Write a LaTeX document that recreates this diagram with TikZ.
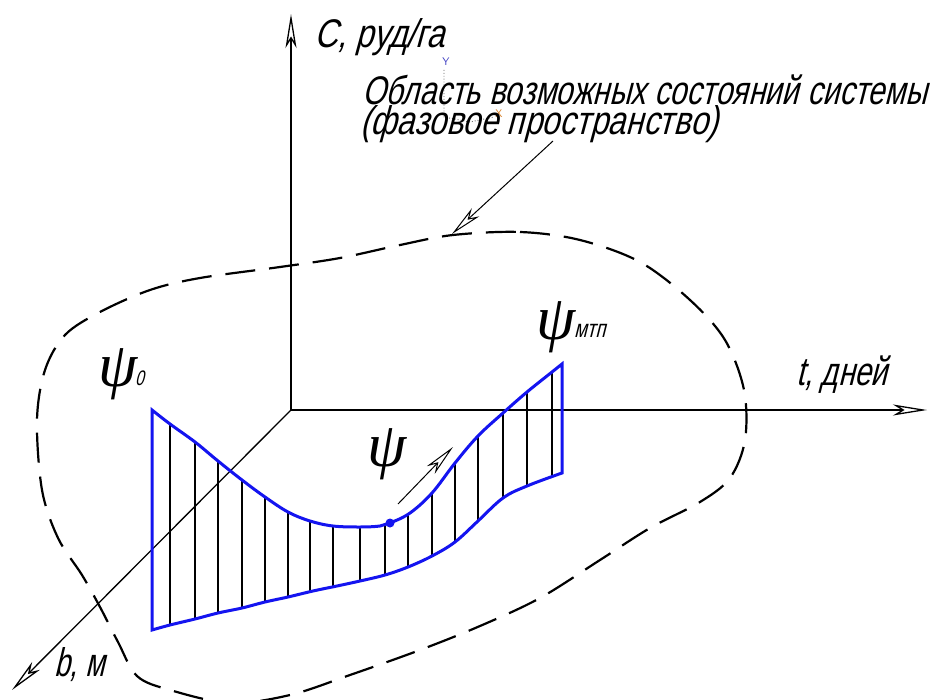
\documentclass[tikz,border=0pt]{standalone}
\usepackage{fontspec}
\usepackage{graphicx}
\usetikzlibrary{arrows.meta}
\newfontfamily\gost[FakeSlant=0.25,FakeStretch=0.74]{Liberation Sans}
\newfontfamily\psifont{Liberation Serif}
\definecolor{cadblue}{RGB}{20,20,240}
\tikzset{
  axisline/.style={line width=1.3pt,-{Stealth[open,length=34pt,width=11pt,inset=9pt]}},
  leader/.style={line width=1pt,-{Stealth[open,length=32pt,width=11pt,inset=9pt]}},
  region/.style={line width=2.2pt,dash pattern=on 30pt off 14pt},
  outline/.style={cadblue,line width=3pt,line join=miter},
  hatch/.style={line width=1.3pt,black},
  gosttext/.style={inner sep=0pt,anchor=base west,font=\gost\fontsize{40}{46}\selectfont},
  psilabel/.style={inner sep=0pt,anchor=base west,font=\psifont\itshape\fontsize{63}{66}\selectfont},
  artifact/.style={gray!80!black,line width=0.9pt,dotted}
}
\begin{document}
\begin{tikzpicture}[x=1pt,y=-1pt]
\useasboundingbox (0,0) rectangle (936,700);
\fill[white] (0,0) rectangle (936,700);
% axes
\coordinate (O) at (291,410);
\coordinate (Ctop) at (291,14);
\coordinate (Tend) at (927,410);
\coordinate (Bend) at (12,690);
\draw[axisline] (O) -- (Ctop);
\draw[axisline] (O) -- (Tend);
\draw[axisline] (O) -- (Bend);
% region boundary
\draw[region] plot[smooth cycle,tension=0.55] coordinates {
 (453,235) (520,232) (580,240) (640,262) (690,300) (725,340) (744,390) (745,440)
 (730,478) (700,502) (650,528) (600,560) (540,598) (480,626) (420,650) (350,675)
 (290,695) (230,703) (170,690) (137,676) (118,642) (100,607) (82,575) (58,538)
 (42,490) (37,420) (45,370) (65,335) (100,312) (150,290) (200,278) (280,267)
 (340,258) (400,245)};
% blue trajectory band
\def\bandpath{plot[smooth,tension=0.6] coordinates {(152,410) (170,424) (195,442) (218,461) (242,480) (265,497) (288,512) (310,521) (333,526) (360,527) (380,526) (390,523) (410,513) (432,493) (455,463) (478,436) (503,413) (527,392) (552,372) (562,364)}
 -- plot[smooth,tension=0.6] coordinates {(562,473) (527,486) (503,498) (478,521) (455,542) (432,556) (408,567) (385,575) (360,581) (337,586) (313,591) (288,597) (265,602) (242,608) (218,613) (195,619) (170,625) (152,630)} -- cycle}
\begin{scope}
\clip \bandpath;
\foreach \xx in {170,195,218,242,265,288,310,333,360,385,408,432,455,478,503,527,552}
  \draw[hatch] (\xx,300) -- (\xx,700);
\end{scope}
\draw[outline] \bandpath;
\fill[cadblue] (390,523) circle (4.5pt);
% direction arrow
\coordinate (A1) at (398,504);
\coordinate (A2) at (453,447);
\draw[leader] (A1) -- (A2);
% leader to region
\coordinate (L1) at (553,141);
\coordinate (L2) at (452,234);
\draw[leader] (L1) -- (L2);
% CAD UCS artifact
\coordinate (U1) at (444,70);
\coordinate (U2) at (444,117);
\coordinate (U3) at (470,122);
\coordinate (U4) at (494,117);
\draw[artifact] (U1) -- (U2) -- (U3) -- (U4);
\node[inner sep=0pt,text=cadblue!60!gray,font=\sffamily\fontsize{11}{11}\selectfont] (uy) at (446,62) {Y};
\node[inner sep=0pt,text=orange!70!gray,font=\sffamily\fontsize{11}{11}\selectfont] (ux) at (499,114) {X};
% texts
\node[gosttext] (clab) at (314,48) {\scalebox{1.09}[1]{С, руд/га}};
\node[gosttext] (reg1) at (362,105) {\scalebox{1.02}[1]{Область возможных состояний системы}};
\node[gosttext] (reg2) at (360,135) {\scalebox{1.075}[1]{(фазовое пространство)}};
\node[gosttext] (tlab) at (796,385) {t, дней};
\node[gosttext] (blab) at (54,676) {\scalebox{0.95}[1]{b, м}};
\node[psilabel] (psi0) at (98,386) {ψ};
\node[inner sep=0pt,anchor=base west,font=\gost\fontsize{21}{21}\selectfont] (sub0) at (135,385) {0};
\node[psilabel] (psim) at (536,339) {ψ};
\node[inner sep=0pt,anchor=base west,font=\gost\fontsize{25}{25}\selectfont] (subm) at (574,337) {мтп};
\node[psilabel] (psi) at (367,466) {ψ};
\end{tikzpicture}
\end{document}
